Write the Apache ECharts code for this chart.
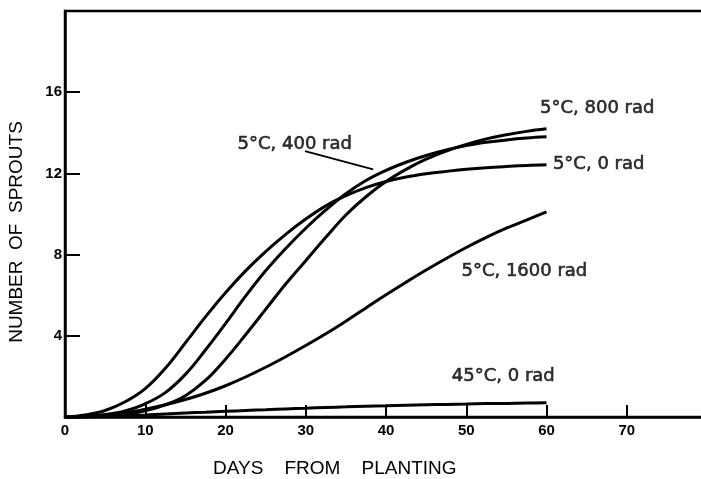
<!DOCTYPE html>
<html>
<head>
<meta charset="utf-8">
<script src="https://cdn.jsdelivr.net/npm/echarts@6/dist/echarts.min.js"></script>
<style>
html,body{margin:0;padding:0;background:#fff;}
#chart{width:701px;height:479px;}
</style>
</head>
<body>
<div id="chart"></div>
<script>
// ---- data ----
const days = [0, 2.5, 5, 7.5, 10, 12.5, 15, 17.5, 20, 22.5, 25, 27.5, 30,
              32.5, 35, 37.5, 40, 42.5, 45, 47.5, 50, 52.5, 55, 57.5, 60];
const rad0_5C    = [0, 0.1, 0.32, 0.75, 1.4, 2.4, 3.65, 4.93, 6.12, 7.2, 8.15, 9.0, 9.75,
                    10.4, 10.9, 11.3, 11.6, 11.82, 11.98, 12.1, 12.2, 12.28, 12.34, 12.39, 12.42];
const rad400_5C  = [0, 0.03, 0.12, 0.3, 0.65, 1.2, 2.1, 3.3, 4.6, 5.95, 7.2, 8.3, 9.3,
                    10.2, 11.0, 11.65, 12.15, 12.55, 12.88, 13.15, 13.37, 13.53, 13.65, 13.74, 13.8];
const rad800_5C  = [0, 0.01, 0.04, 0.12, 0.3, 0.6, 1.05, 1.8, 2.85, 4.05, 5.3, 6.55, 7.7,
                    8.85, 9.95, 10.85, 11.6, 12.2, 12.7, 13.1, 13.43, 13.7, 13.9, 14.07, 14.2];
const rad1600_5C = [0, 0.02, 0.08, 0.2, 0.38, 0.6, 0.86, 1.17, 1.54, 1.97, 2.45, 2.97, 3.52,
                    4.1, 4.72, 5.37, 6.02, 6.64, 7.24, 7.81, 8.35, 8.85, 9.3, 9.7, 10.1];
const rad0_45C   = [0, 0.01, 0.03, 0.06, 0.1, 0.15, 0.2, 0.24, 0.28, 0.32, 0.36, 0.4, 0.43,
                    0.47, 0.5, 0.53, 0.55, 0.58, 0.6, 0.62, 0.64, 0.66, 0.67, 0.69, 0.7];
const xTicks = [0, 10, 20, 30, 40, 50, 60, 70];
const yTicks = [4, 8, 12, 16];
const seriesNames = ['5°C, 0 rad', '5°C, 400 rad', '5°C, 800 rad', '5°C, 1600 rad', '45°C, 0 rad'];
const xTitle = 'DAYS    FROM    PLANTING';
const yTitle = 'NUMBER  OF  SPROUTS';

const FONT = 'Liberation Sans';
const LFONT = 'DejaVu Sans';
const chart = echarts.init(document.getElementById('chart'), null, {renderer: 'canvas'});

function pairs(vals) { return days.map((d, i) => [d, vals[i]]); }
const allSeries = [rad0_5C, rad400_5C, rad800_5C, rad1600_5C, rad0_45C];

const series = allSeries.map((vals, i) => ({
  name: seriesNames[i],
  type: 'line',
  data: pairs(vals),
  smooth: 0.4,
  showSymbol: false,
  symbol: 'none',
  lineStyle: {color: '#000', width: 3},
  z: 3
}));

// annotation labels placed in data coordinates
const labels = [
  {text: '5°C, 800 rad', at: [59.2, 15.2]},
  {text: '5°C, 400 rad', at: [21.5, 13.45]},
  {text: '5°C, 0 rad', at: [60.8, 12.45]},
  {text: '5°C, 1600 rad', at: [49.4, 7.2]},
  {text: '45°C, 0 rad', at: [48.2, 2.0]}
];
const pointer = [[29.9, 13.1], [38.4, 12.2]];

series.push({
  type: 'scatter',
  data: labels.map(l => ({value: l.at, label: {formatter: l.text}})),
  symbolSize: 0,
  label: {show: true, position: 'right', distance: 0, color: '#000',
          fontFamily: LFONT, fontSize: 18, textBorderColor: '#000', textBorderWidth: 0.6},
  silent: true, z: 5
});
series.push({
  type: 'line',
  data: pointer,
  showSymbol: false, symbol: 'none',
  lineStyle: {color: '#000', width: 1.8},
  silent: true, z: 4
});

chart.setOption({
  animation: false,
  backgroundColor: '#fff',
  grid: {left: 65, top: 11, right: -6, bottom: 62, show: true, containLabel: false,
         outerBoundsMode: 'none',
         borderColor: '#000', borderWidth: 2.5, backgroundColor: 'transparent'},
  xAxis: {
    type: 'value', min: 0, max: 80, interval: 10,
    axisLine: {show: true, onZero: false, lineStyle: {color: '#000', width: 2.5}},
    axisTick: {show: true, inside: true, length: 12, lineStyle: {color: '#000', width: 2}},
    axisLabel: {color: '#000', fontFamily: FONT, fontSize: 15, fontWeight: 'bold', margin: 6,
                formatter: v => xTicks.includes(v) ? String(v) : ''},
    splitLine: {show: false}
  },
  yAxis: {
    type: 'value', min: 0, max: 20, interval: 4,
    axisLine: {show: true, onZero: false, lineStyle: {color: '#000', width: 2.5}},
    axisTick: {show: true, inside: true, length: 15, lineStyle: {color: '#000', width: 2}},
    axisLabel: {color: '#000', fontFamily: FONT, fontSize: 15, fontWeight: 'bold', margin: 3,
                formatter: v => yTicks.includes(v) ? String(v) : ''},
    splitLine: {show: false}
  },
  graphic: [
    {type: 'text', left: 213, top: 459,
     style: {text: xTitle, fill: '#000', font: '19px "' + FONT + '"'}},
    {type: 'text', x: 17, y: 232, rotation: Math.PI / 2,
     style: {text: yTitle, fill: '#000', font: '19px "' + FONT + '"',
             align: 'center', verticalAlign: 'middle'}}
  ],
  series: series
});
</script>
</body>
</html>
